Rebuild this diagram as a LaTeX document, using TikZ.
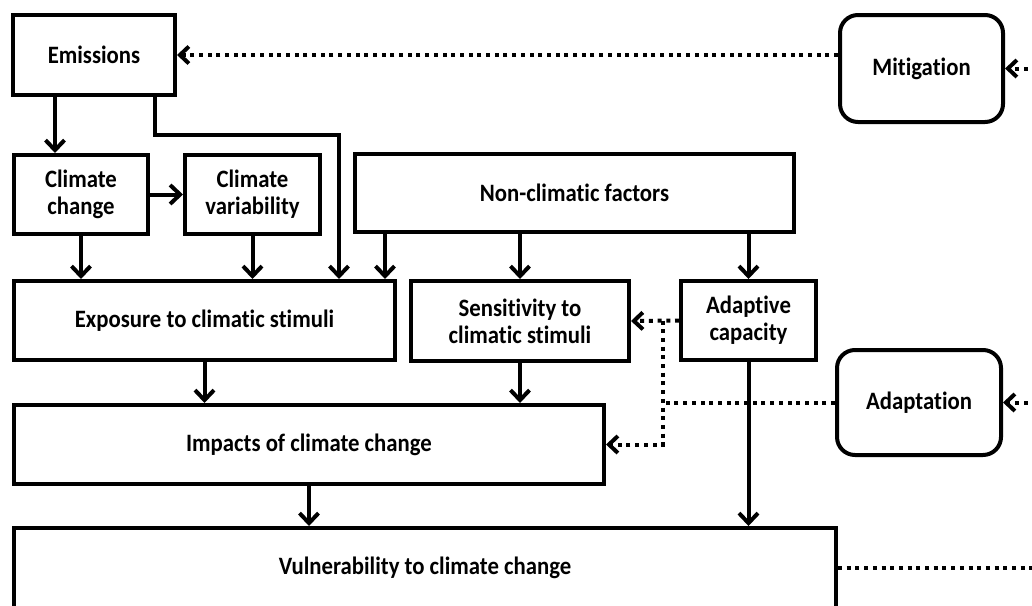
\documentclass[tikz,border=0pt]{standalone}
\usepackage{fontspec}
\setmainfont{Carlito}[Ligatures=NoCommon, FakeStretch=0.91]
\usetikzlibrary{arrows.meta}

\tikzset{
  box/.style={draw, line width=4pt, align=center, inner sep=0pt,
    font=\fontsize{25}{27}\selectfont\bfseries},
  rbox/.style={box, rounded corners=18pt},
  arr/.style={line width=4pt, -{Straight Barb[length=10pt,width=19pt]}},
  dotline/.style={line width=4pt, dash pattern=on 4pt off 4.7pt},
  dotarr/.style={dotline, -{Straight Barb[length=9pt,width=17pt]}}
}

\begin{document}
\begin{tikzpicture}[x=1pt, y=-1pt]
\useasboundingbox (0,0) rectangle (1032,605);

% boxes
\node[box, minimum width=162pt, minimum height=80pt] (em) at (94,55) {Emissions};
\node[rbox, minimum width=163pt, minimum height=107pt] (mit) at (921.5,68.5) {Mitigation};
\node[box, minimum width=134pt, minimum height=79pt] (cc) at (81,194.5) {Climate\\change};
\node[box, minimum width=135pt, minimum height=79pt] (cv) at (252.5,194.5) {Climate\\variability};
\node[box, minimum width=439pt, minimum height=78pt] (ncf) at (574.5,193) {Non-climatic factors};
\node[box, minimum width=381pt, minimum height=79pt] (exp) at (204.5,320.5) {Exposure to climatic stimuli};
\node[box, minimum width=218pt, minimum height=80pt] (sens) at (520,321) {Sensitivity to\\climatic stimuli};
\node[box, minimum width=135pt, minimum height=79pt] (adc) at (748.5,320.5) {Adaptive\\capacity};
\node[rbox, minimum width=164pt, minimum height=105pt] (adp) at (919,402.5) {Adaptation};
\node[box, minimum width=590pt, minimum height=79pt] (imp) at (309,444.5) {Impacts of climate change};
\node[box, minimum width=822pt, minimum height=80pt] (vul) at (425,568) {Vulnerability to climate change};

% free ends and bends
\coordinate (elbow) at (339,135);
\coordinate (mitin) at (1045,68.5);
\coordinate (adpin) at (1045,402.5);
\coordinate (vulout) at (1045,568);
\coordinate (junc) at (663,320.5);

% solid links
\draw[arr] ([xshift=44pt]em.south west) -- ([xshift=44pt]em.south west |- cc.north);
\draw[arr] ([xshift=-22pt]em.south east) |- (elbow) -- (elbow |- exp.north);
\draw[arr] (cc) -- (cv);
\draw[arr] (cc) -- (cc |- exp.north);
\draw[arr] (cv) -- (cv |- exp.north);
\draw[arr] ([xshift=32pt]ncf.south west) -- ([xshift=32pt]ncf.south west |- exp.north);
\draw[arr] (ncf.south -| sens.north) -- (sens.north);
\draw[arr] (ncf.south -| adc.north) -- (adc.north);
\draw[arr] (exp) -- (exp |- imp.north);
\draw[arr] (sens) -- (sens |- imp.north);
\draw[arr] (imp) -- (imp |- vul.north);
\draw[arr] (adc) -- (adc |- vul.north);

% dotted links
\draw[dotarr] (em.east -| mit.west) -- (em.east);
\draw[dotarr] (mitin) -- (mit.east);
\draw[dotarr] (adpin) -- (adp.east);
\draw[dotarr] (adc.west) -- (sens.east);
\draw[dotarr] (junc) -- (junc |- imp.east) -- (imp.east);
\draw[dotline] (adp.west) -- (adp.west -| junc);
\draw[dotline] (vul.east) -- (vulout);
\end{tikzpicture}
\end{document}
